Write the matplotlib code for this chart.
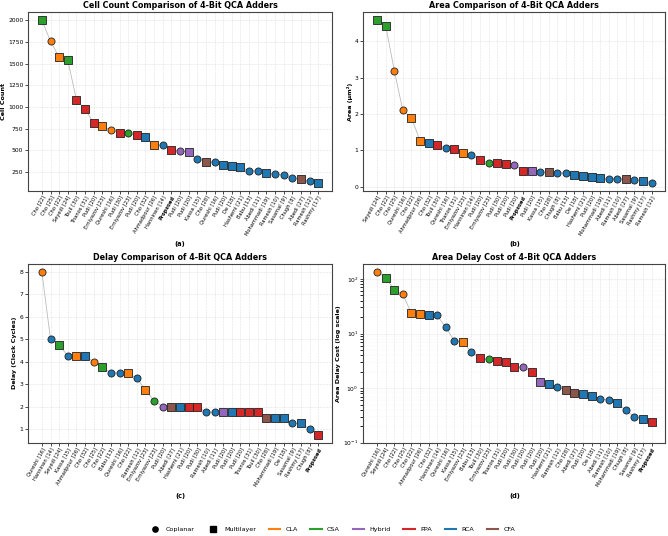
import matplotlib
matplotlib.use('Agg')
import matplotlib.pyplot as plt
from matplotlib.lines import Line2D

# type colours
type_colors = {'CLA': '#ff7f0e', 'CSA': '#2ca02c', 'Hybrid': '#9467bd',
               'PPA': '#d62728', 'RCA': '#1f77b4', 'CFA': '#8c564b'}
layer_markers = {'C': 'o', 'M': 's'}

# (a) cell count
labels_a = ['Cho [22]', 'Cho [25]', 'Cho [22]', 'Seyedi [24]', 'Touil [30]', 'Thanos [31]', 'Pudi [20]',
            'Erniyazov [23]', 'Qureshi [16]', 'Pudi [30]', 'Erniyazov [23]', 'Pudi [20]', 'Cho [32]',
            'Ahmadpour [26]', 'Hanninen [14]', 'Proposed', 'Pudi [20]', 'Pudi [20]', 'Kassa [15]', 'Cho [28]',
            'Qureshi [16]', 'Pudi [20]', 'De [18]', 'Hashemi [21]', 'Babu [13]', 'Abedi [11]', 'Mohammadi [19]',
            'Ramesh [10]', 'Sasamal [9]', 'Chugh [8]', 'Abedi [27]', 'Ramesh [12]', 'Rashmy [17]']
values_a = [2000, 1760, 1575, 1540, 1085, 975, 815, 775, 735, 700, 695, 675, 650, 565, 555, 500, 495, 475,
            400, 370, 360, 335, 315, 305, 265, 260, 235, 230, 210, 175, 165, 140, 125]
types_a = ['CSA', 'CLA', 'CLA', 'CSA', 'PPA', 'PPA', 'PPA', 'CLA', 'CLA', 'PPA', 'CSA', 'PPA', 'RCA', 'CLA',
           'RCA', 'PPA', 'Hybrid', 'Hybrid', 'RCA', 'CFA', 'RCA', 'RCA', 'RCA', 'RCA', 'RCA', 'RCA', 'RCA',
           'RCA', 'RCA', 'RCA', 'CFA', 'RCA', 'RCA']
layers_a = list('MCMMMMMMCMCMMMCMCMCMCMMMCCMCCCMCM')

# (b) area
labels_b = ['Seyedi [24]', 'Cho [22]', 'Cho [25]', 'Qureshi [16]', 'Cho [22]', 'Ahmadpour [26]', 'Cho [32]',
            'Touil [30]', 'Qureshi [16]', 'Thanos [31]', 'Erniyazov [23]', 'Hanninen [14]', 'Pudi [20]',
            'Erniyazov [23]', 'Pudi [30]', 'Pudi [20]', 'Pudi [20]', 'Proposed', 'Pudi [20]', 'Kassa [15]',
            'Cho [28]', 'Chugh [8]', 'Babu [13]', 'De [18]', 'Hashemi [21]', 'Pudi [20]', 'Mohammadi [19]',
            'Abedi [11]', 'Ramesh [10]', 'Abedi [27]', 'Sasamal [9]', 'Rashmy [17]', 'Ramesh [12]']
values_b = [4.58, 4.44, 3.2, 2.1, 1.9, 1.27, 1.21, 1.15, 1.07, 1.04, 0.93, 0.86, 0.74, 0.66, 0.66, 0.63,
            0.61, 0.43, 0.42, 0.41, 0.40, 0.39, 0.37, 0.33, 0.30, 0.26, 0.25, 0.22, 0.21, 0.21, 0.19, 0.17, 0.11]
types_b = ['CSA', 'CSA', 'CLA', 'CLA', 'CLA', 'CLA', 'RCA', 'PPA', 'RCA', 'PPA', 'CLA', 'RCA', 'PPA', 'CSA',
           'PPA', 'PPA', 'Hybrid', 'PPA', 'Hybrid', 'RCA', 'CFA', 'RCA', 'RCA', 'RCA', 'RCA', 'RCA', 'RCA',
           'RCA', 'RCA', 'CFA', 'RCA', 'RCA', 'RCA']
layers_b = list('MMCCMMMMCMMCMCMMCMMCMCCMMMMCCMCMC')

# (c) delay
labels_c = ['Qureshi [16]', 'Hanninen [14]', 'Seyedi [24]', 'Kassa [15]', 'Ahmadpour [26]', 'Cho [32]',
            'Cho [25]', 'Cho [22]', 'Babu [13]', 'Qureshi [16]', 'Cho [22]', 'Ramesh [12]', 'Erniyazov [23]',
            'Erniyazov [23]', 'Pudi [20]', 'Abedi [27]', 'Hashemi [21]', 'Pudi [20]', 'Pudi [30]', 'Ramesh [10]',
            'Abedi [11]', 'Pudi [20]', 'Pudi [20]', 'Pudi [20]', 'Thanos [31]', 'Touil [30]', 'Cho [28]',
            'Mohammadi [19]', 'De [18]', 'Sasamal [9]', 'Rashmy [17]', 'Chugh [8]', 'Proposed']
values_c = [8, 5, 4.75, 4.25, 4.25, 4.25, 4, 3.75, 3.5, 3.5, 3.5, 3.25, 2.75, 2.25, 2, 2, 2, 2, 2,
            1.75, 1.75, 1.75, 1.75, 1.75, 1.75, 1.75, 1.5, 1.5, 1.5, 1.25, 1.25, 1, 0.75]
types_c = ['CLA', 'RCA', 'CSA', 'RCA', 'CLA', 'RCA', 'CLA', 'CSA', 'RCA', 'RCA', 'CLA', 'RCA', 'CLA', 'CSA',
           'Hybrid', 'CFA', 'RCA', 'PPA', 'PPA', 'RCA', 'RCA', 'Hybrid', 'RCA', 'PPA', 'PPA', 'PPA', 'CFA',
           'RCA', 'RCA', 'RCA', 'RCA', 'RCA', 'PPA']
layers_c = list('CCMCMMCMCCMCMCCMMMMCCMMMMMMMMCMCM')

# (d) area delay cost
labels_d = ['Qureshi [16]', 'Seyedi [24]', 'Cho [22]', 'Cho [25]', 'Cho [22]', 'Ahmadpour [26]', 'Cho [32]',
            'Hanninen [14]', 'Qureshi [16]', 'Kassa [15]', 'Erniyazov [23]', 'Babu [13]', 'Touil [30]',
            'Erniyazov [23]', 'Thanos [31]', 'Pudi [20]', 'Pudi [30]', 'Pudi [20]', 'Pudi [20]', 'Pudi [20]',
            'Hashemi [21]', 'Ramesh [12]', 'Cho [28]', 'Abedi [27]', 'Pudi [20]', 'De [18]', 'Abedi [11]',
            'Ramesh [10]', 'Mohammadi [19]', 'Chugh [8]', 'Sasamal [9]', 'Rashmy [17]', 'Proposed']
values_d = [136, 106, 63, 52, 23.5, 23, 22, 21.4, 13, 7.4, 7.0, 4.56, 3.5, 3.35, 3.2, 2.95, 2.49, 2.42,
            1.99, 1.31, 1.17, 1.06, 0.91, 0.80, 0.77, 0.72, 0.63, 0.61, 0.54, 0.39, 0.30, 0.27, 0.235]
types_d = ['CLA', 'CSA', 'CSA', 'CLA', 'CLA', 'CLA', 'RCA', 'RCA', 'RCA', 'RCA', 'CLA', 'RCA', 'PPA', 'CSA',
           'PPA', 'PPA', 'PPA', 'Hybrid', 'PPA', 'Hybrid', 'RCA', 'RCA', 'CFA', 'CFA', 'RCA', 'RCA', 'RCA',
           'RCA', 'RCA', 'RCA', 'RCA', 'RCA', 'PPA']
layers_d = list('CMMCMMMCCCMCMCMMMCMMMCMMMMCCMCCMM')

fig = plt.figure(figsize=(6.68, 5.36), dpi=100)
ax_a = fig.add_axes([0.042, 0.644, 0.455, 0.333])
ax_b = fig.add_axes([0.544, 0.644, 0.452, 0.333])
ax_c = fig.add_axes([0.042, 0.174, 0.455, 0.334])
ax_d = fig.add_axes([0.544, 0.174, 0.452, 0.334])


def draw(ax, labels, values, types, layers, title, ylabel, sub, log=False):
    x = list(range(len(values)))
    ax.plot(x, values, color='#aaaaaa', lw=0.6, alpha=0.8, zorder=2)
    for i in x:
        ax.scatter(i, values[i], s=26, marker=layer_markers[layers[i]], color=type_colors[types[i]],
                   edgecolors='#222222', linewidths=0.6, zorder=3)
    if log:
        ax.set_yscale('log')
        ax.set_ylim(0.1, 190)
    ax.set_xticks(x)
    ax.set_xticklabels(labels, rotation=60, ha='right', rotation_mode='anchor', fontsize=3.7)
    for t in ax.get_xticklabels():
        if t.get_text() == 'Proposed':
            t.set_fontweight('bold')
    ax.tick_params(axis='y', labelsize=4.3, length=2, width=0.5, pad=1.5)
    ax.tick_params(axis='x', length=2, width=0.5, pad=1)
    ax.set_title(title, fontsize=5.8, fontweight='bold', pad=3)
    ax.set_ylabel(ylabel, fontsize=4.6, fontweight='bold', labelpad=1.5)
    ax.grid(True, color='#cccccc', lw=0.4, alpha=0.6, linestyle='--')
    ax.grid(True, which='minor', axis='y', color='#dddddd', lw=0.3, alpha=0.4, linestyle='--')
    for s in ax.spines.values():
        s.set_linewidth(0.8)
        s.set_color('#444444')
    pos = ax.get_position()
    fig.text((pos.x0 + pos.x1) / 2, pos.y0 - 0.099, sub, ha='center', va='center', fontsize=4.8, fontweight='bold')


draw(ax_a, labels_a, values_a, types_a, layers_a, 'Cell Count Comparison of 4-Bit QCA Adders', 'Cell Count', '(a)')
draw(ax_b, labels_b, values_b, types_b, layers_b, 'Area Comparison of 4-Bit QCA Adders', 'Area (μm²)', '(b)')
draw(ax_c, labels_c, values_c, types_c, layers_c, 'Delay Comparison of 4-Bit QCA Adders', 'Delay (Clock Cycles)', '(c)')
draw(ax_d, labels_d, values_d, types_d, layers_d, 'Area Delay Cost of 4-Bit QCA Adders',
     'Area Delay Cost (log scale)', '(d)', log=True)

handles = [Line2D([], [], marker='o', color='black', linestyle='none', markersize=3.8, label='Coplanar'),
           Line2D([], [], marker='s', color='black', linestyle='none', markersize=3.8, label='Multilayer')]
for t in ['CLA', 'CSA', 'Hybrid', 'PPA', 'RCA', 'CFA']:
    handles.append(Line2D([], [], color=type_colors[t], lw=1.5, label=t))
fig.legend(handles=handles, loc='center', bbox_to_anchor=(0.497, 0.013), ncol=8, frameon=False,
           fontsize=4.6, handlelength=1.8, columnspacing=2.0, handletextpad=0.8)

fig.savefig('out.png', dpi=100)
